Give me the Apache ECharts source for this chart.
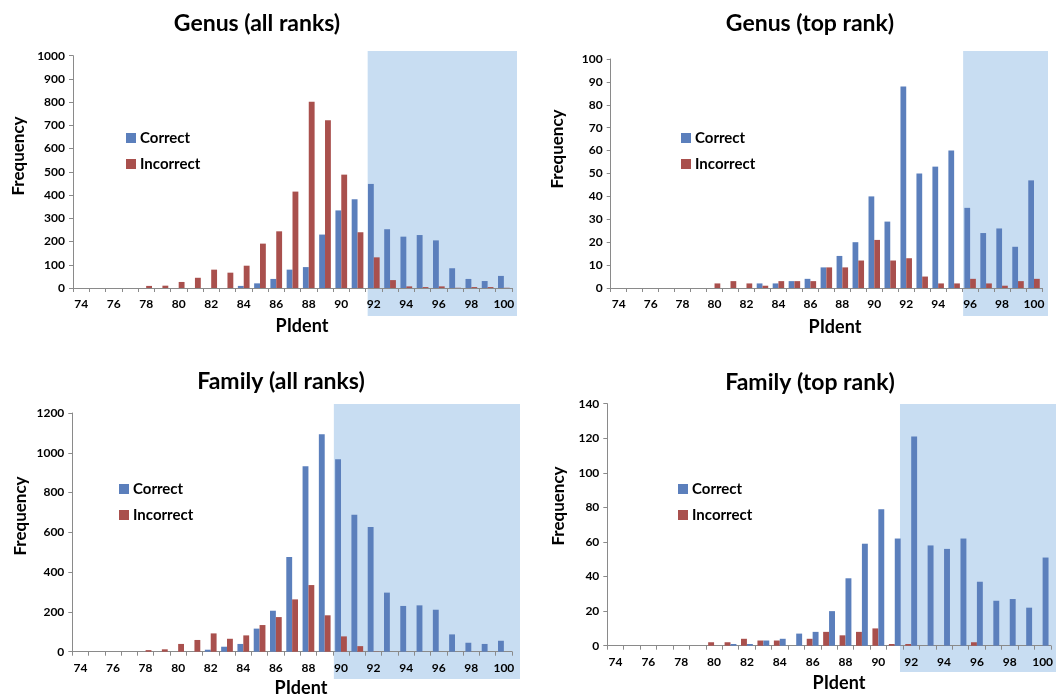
<!DOCTYPE html>
<html>
<head>
<meta charset="utf-8">
<script src="https://cdn.jsdelivr.net/npm/echarts@6/dist/echarts.min.js"></script>
<style>
html,body{margin:0;padding:0;background:#fff;}
#chart{width:1056px;height:698px;}
</style>
</head>
<body>
<div id="chart"></div>
<script>
// ---- data ----
var categories = ['74','75','76','77','78','79','80','81','82','83','84','85','86','87','88','89','90','91','92','93','94','95','96','97','98','99','100'];

var genusAllCorrect   = [0,0,0,0,0,0,0,0,0,0,9,20,39,79,90,230,334,382,448,253,221,228,205,85,39,30,52];
var genusAllIncorrect = [0,0,0,0,9,10,26,44,79,66,96,191,244,415,802,722,488,240,132,34,7,4,7,1,4,4,1];

var genusTopCorrect   = [0,0,0,0,0,0,0,0,0,2,2,3,4,9,14,20,40,29,88,50,53,60,35,24,26,18,47];
var genusTopIncorrect = [0,0,0,0,0,0,2,3,2,1,3,3,3,9,9,12,21,12,13,5,2,2,4,2,1,3,4];

var familyAllCorrect   = [0,0,0,0,0,0,0,0,10,25,39,116,206,476,932,1093,967,689,627,297,230,233,211,87,45,39,55];
var familyAllIncorrect = [0,0,0,0,8,12,39,59,92,65,82,134,174,263,335,183,77,28,1,0,0,0,0,0,0,0,0];

var familyTopCorrect   = [0,0,0,0,0,0,0,1,1,3,4,7,8,20,39,59,79,62,121,58,56,62,37,26,27,22,51];
var familyTopIncorrect = [0,0,0,0,0,0,2,2,4,3,3,0,4,8,6,8,10,1,1,0,0,0,2,0,0,0,0];

var panelTitles = ['Genus (all ranks)','Genus (top rank)','Family (all ranks)','Family (top rank)'];
var seriesNames = ['Correct','Incorrect'];
var yMax = [1000, 100, 1200, 140];
var yStep = [100, 10, 200, 20];
// first category of the shaded (accepted) zone in each panel
var shadeFrom = ['92','96','90','92'];

// ---- layout / style ----
var FONT = 'Lato, "Open Sans", sans-serif';
var BLUE = '#5b7fbc', RED = '#a9504d', SHADE = '#c8ddf2', AXIS = '#8a8a8a';

var grids = [
  {left:73,    top:55.7, width:439,   height:232.3},
  {left:610.7, top:59,   width:431.3, height:229},
  {left:72.3,  top:413,  width:439.7, height:238.7},
  {left:607.3, top:403.7,width:446.4, height:242}
];
var titlePos = [[257,24],[810,24],[281,382],[810,383]];
var freqPos  = [[19,156],[558,149],[20.5,516],[559,506]];
var xNamePos = [[302,326],[835,327],[301,688],[839,683]];
var legendPos= [[126,130],[681,130],[119,481],[678,481]];
var shadeBox = [ // right, top, bottom, left nudge
  [517, 51, 316, 2],[1048, 51, 316, 1],[520, 404, 679, 1],[1056, 404, 672, -3]
];
// in the last panel the red bars sit left of the blue ones
var redFirst = [false, false, false, true];

var data = [
  [genusAllCorrect, genusAllIncorrect],
  [genusTopCorrect, genusTopIncorrect],
  [familyAllCorrect, familyAllIncorrect],
  [familyTopCorrect, familyTopIncorrect]
];

var option = {
  backgroundColor:'#fff',
  animation:false,
  title:[], grid:[], xAxis:[], yAxis:[], series:[], legend:[], graphic:[]
};

for (var i=0;i<4;i++){
  option.grid.push({left:grids[i].left, top:grids[i].top, width:grids[i].width, height:grids[i].height, containLabel:false});
  option.xAxis.push({
    type:'category', gridIndex:i, data:categories,
    axisLine:{lineStyle:{color:AXIS,width:1}},
    axisTick:{show:true, interval:0, length:4, lineStyle:{color:AXIS}},
    axisLabel:{interval:1, margin:10, color:'#000', fontWeight:'bold', fontSize:12, fontFamily:FONT},
    splitLine:{show:false}, z:3
  });
  option.yAxis.push({
    type:'value', gridIndex:i, min:0, max:yMax[i], interval:yStep[i],
    axisLine:{show:true, lineStyle:{color:AXIS,width:1}},
    axisTick:{show:true, length:4, lineStyle:{color:AXIS}},
    axisLabel:{margin:8, color:'#000', fontWeight:'bold', fontSize:12, fontFamily:FONT,
      formatter:function(v){return String(v);}},
    splitLine:{show:false}
  });
  var sCorrect = {
    type:'bar', name:seriesNames[0], xAxisIndex:i, yAxisIndex:i, data:data[i][0],
    itemStyle:{color:BLUE}, barGap:'0%', barCategoryGap:'28%', z:5
  };
  var sIncorrect = {
    type:'bar', name:seriesNames[1], xAxisIndex:i, yAxisIndex:i, data:data[i][1],
    itemStyle:{color:RED}, barGap:'0%', barCategoryGap:'28%', z:5
  };
  if (redFirst[i]) { option.series.push(sIncorrect, sCorrect); }
  else { option.series.push(sCorrect, sIncorrect); }
  option.legend.push({
    left:legendPos[i][0], top:legendPos[i][1], orient:'vertical', padding:0,
    itemWidth:10, itemHeight:10, itemGap:10, icon:'rect',
    data:seriesNames, selectedMode:false,
    textStyle:{fontFamily:FONT, fontWeight:'bold', fontSize:15, color:'#000', lineHeight:16, padding:[0,0,0,-1]}
  });
  option.graphic.push({
    type:'text', id:'title'+i, x:titlePos[i][0], y:titlePos[i][1], z:10,
    style:{text:panelTitles[i], align:'center', verticalAlign:'middle', font:'bold 23px '+FONT, fill:'#000'}
  });
  option.graphic.push({
    type:'text', id:'freq'+i, x:freqPos[i][0], y:freqPos[i][1], rotation:Math.PI/2, z:10,
    style:{text:'Frequency', align:'center', verticalAlign:'middle', font:'bold 17px '+FONT, fill:'#000'}
  });
  option.graphic.push({
    type:'text', id:'xname'+i, x:xNamePos[i][0], y:xNamePos[i][1], z:10,
    style:{text:'PIdent', align:'center', verticalAlign:'middle', font:'bold 18px '+FONT, fill:'#000'}
  });
}

var chart = echarts.init(document.getElementById('chart'), null, {renderer:'canvas'});
chart.setOption(option);

// shaded zones, placed through the axis scale
var rects = [];
for (var k=0;k<4;k++){
  var idx = categories.indexOf(shadeFrom[k]);
  var a = chart.convertToPixel({xAxisIndex:k}, categories[idx-1]);
  var b = chart.convertToPixel({xAxisIndex:k}, categories[idx]);
  var left = (a+b)/2 + shadeBox[k][3];
  rects.push({
    type:'rect', id:'shade'+k, z:-10, silent:true,
    shape:{x:left, y:shadeBox[k][1], width:shadeBox[k][0]-left, height:shadeBox[k][2]-shadeBox[k][1]},
    style:{fill:SHADE}
  });
}
chart.setOption({graphic:rects});
</script>
</body>
</html>
